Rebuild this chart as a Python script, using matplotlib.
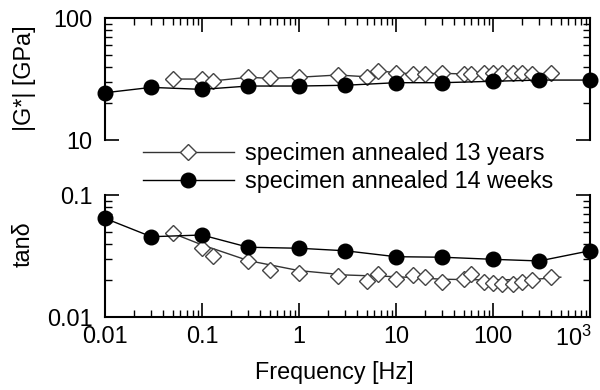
import matplotlib
matplotlib.use("Agg")
import matplotlib.pyplot as plt
from matplotlib.ticker import LogLocator, FixedLocator, FixedFormatter, NullFormatter
from matplotlib.transforms import ScaledTranslation

plt.rcParams['font.family'] = ['Liberation Sans', 'DejaVu Sans']
plt.rcParams['mathtext.fontset'] = 'custom'
plt.rcParams['mathtext.rm'] = 'Liberation Sans'
plt.rcParams['mathtext.it'] = 'Liberation Sans'

# specimen annealed 13 years (open diamonds)
freq_13y = [0.05, 0.1, 0.13, 0.3, 0.5, 1, 2.5, 5, 6.5, 10, 15, 20, 30, 50, 60, 80,
            100, 125, 160, 200, 250, 400]
G_13y = [31.6, 31.6, 30.5, 32.7, 32.0, 32.7, 34.1, 33.0, 37.0, 35.6, 34.8, 34.8,
         35.2, 34.8, 34.8, 35.2, 35.6, 35.2, 35.2, 35.2, 34.8, 35.2]
tan_13y = [0.0485, 0.0370, 0.0316, 0.0289, 0.0243, 0.0231, 0.0217, 0.0198, 0.0224,
           0.0204, 0.0221, 0.0214, 0.0195, 0.0204, 0.0225, 0.0195, 0.0189, 0.0186,
           0.0186, 0.0195, 0.0201, 0.0214]
# smooth guide line through the 13 year tan delta data
fit_freq_13y = [0.05, 0.1, 0.3, 1, 3, 10, 30, 100, 300, 500]
fit_tan_13y = [0.0485, 0.039, 0.029, 0.024, 0.0221, 0.0214, 0.0204, 0.0201, 0.0205, 0.0212]

# specimen annealed 14 weeks (filled circles)
freq_14w = [0.01, 0.03, 0.1, 0.3, 1, 3, 10, 30, 100, 300, 1000]
G_14w = [24.4, 27.0, 26.0, 27.7, 27.7, 28.1, 29.5, 29.5, 30.3, 31.0, 31.0]
tan_14w = [0.0644, 0.0455, 0.047, 0.0373, 0.0366, 0.0349, 0.0312, 0.0309, 0.0297,
           0.0288, 0.0349]

xticks = [0.01, 0.1, 1, 10, 100, 1000]
xticklabels = ['0.01', '0.1', '1', '10', '100', '$10^3$']

fs = 16.8
fig = plt.figure(figsize=(6, 3.9), dpi=100)
ax1 = fig.add_axes([0.175, 0.641, 0.8083, 0.3128])
ax2 = fig.add_axes([0.175, 0.1872, 0.8083, 0.3128])

dia = dict(marker='D', markersize=8, mfc='white', mec='#444444', mew=1.0)
circ = dict(marker='o', markersize=10.5, mfc='black', mec='black')

ax1.plot(freq_13y, G_13y, color='#333333', lw=1.0, **dia)
ax1.plot(freq_14w, G_14w, color='black', lw=1.0, clip_on=False, **circ)

ax2.plot(fit_freq_13y, fit_tan_13y, color='#333333', lw=1.0)
ax2.plot(freq_13y, tan_13y, ls='none', **dia)
ax2.plot(freq_14w, tan_14w, color='black', lw=1.0, clip_on=False, **circ)

for ax in (ax1, ax2):
    ax.set_xscale('log')
    ax.set_yscale('log')
    ax.set_xlim(0.01, 1000)
    for s in ax.spines.values():
        s.set_linewidth(1.5)
    ax.xaxis.set_major_locator(FixedLocator(xticks))
    ax.xaxis.set_minor_locator(LogLocator(base=10, subs=range(2, 10), numticks=20))
    ax.yaxis.set_minor_locator(LogLocator(base=10, subs=range(2, 10), numticks=20))
    ax.yaxis.set_minor_formatter(NullFormatter())
    ax.xaxis.set_minor_formatter(NullFormatter())
    ax.tick_params(which='major', direction='in', length=10, width=1.2, labelsize=fs)
    ax.tick_params(which='minor', direction='in', length=5, width=1.0)

ax1.set_ylim(10, 100)
ax1.set_yticks([10, 100])
ax1.set_yticklabels(['10', '100'])
ax1.spines['bottom'].set_visible(False)
ax1.tick_params(which='both', top=True, bottom=False, left=True, right=True,
                labelbottom=False, labeltop=False)
ax1.tick_params(axis='y', pad=9)
ax1.set_ylabel('|G*| [GPa]', fontsize=fs)
ax1.yaxis.set_label_coords(-0.142, 0.51)

ax2.set_ylim(0.01, 0.1)
ax2.set_yticks([0.01, 0.1])
ax2.set_yticklabels(['0.01', '0.1'])
ax2.spines['top'].set_visible(False)
ax2.tick_params(which='both', top=False, bottom=True, left=True, right=True)
ax2.tick_params(axis='y', pad=9)
ax2.tick_params(axis='x', pad=6)
ax2.xaxis.set_major_formatter(FixedFormatter(xticklabels))
ax2.set_ylabel('tan\u03b4', fontsize=fs)
ax2.yaxis.set_label_coords(-0.145, 0.6)
ax2.set_xlabel('Frequency [Hz]', fontsize=fs)
ax2.xaxis.set_label_coords(0.472, -0.36)

h1, = ax1.plot([], [], color='#333333', lw=1.0, **dia)
h2, = ax1.plot([], [], color='black', lw=1.0, **circ)
fig.legend([h1, h2], ['specimen annealed 13 years', 'specimen annealed 14 weeks'],
           loc='center left', bbox_to_anchor=(0.238, 0.5705), frameon=False,
           fontsize=fs, handlelength=3.9, handletextpad=0.5, labelspacing=0.2,
           borderpad=0, borderaxespad=0)

# pull the 10^3 label left so it stays inside the figure
fig.canvas.draw()
last = ax2.get_xticklabels()[-1]
last.set_transform(last.get_transform() + ScaledTranslation(-12 / 72, 0, fig.dpi_scale_trans))

fig.savefig('out.png', dpi=100)
